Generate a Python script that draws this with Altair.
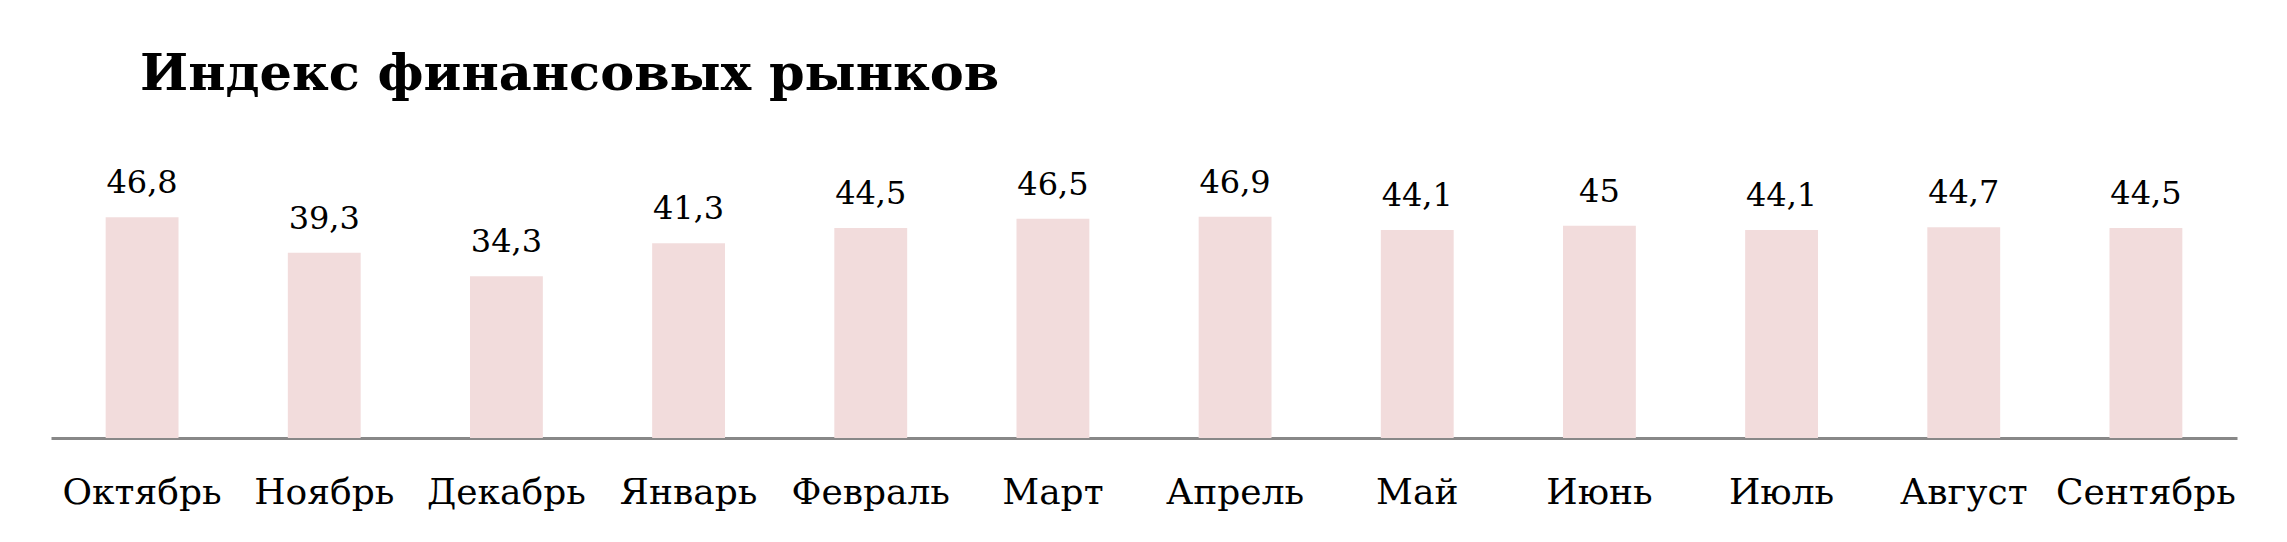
import altair as alt
import pandas as pd

months = ["Октябрь", "Ноябрь", "Декабрь", "Январь", "Февраль", "Март",
          "Апрель", "Май", "Июнь", "Июль", "Август", "Сентябрь"]
values = [46.8, 39.3, 34.3, 41.3, 44.5, 46.5, 46.9, 44.1, 45.0, 44.1, 44.7, 44.5]
labels = ["46,8", "39,3", "34,3", "41,3", "44,5", "46,5", "46,9", "44,1", "45", "44,1", "44,7", "44,5"]

df = pd.DataFrame({"month": months, "value": values, "label": labels})

FONT = "DejaVu Serif"

x = alt.X("month:N", sort=months, title=None,
          scale=alt.Scale(paddingInner=0.6, paddingOuter=0.3),
          axis=alt.Axis(labelAngle=0, labelFont=FONT, labelFontSize=36, labelColor="#000000",
                        labelBaseline="alphabetic", labelPadding=65, ticks=False, tickSize=0,
                        domainColor="#888888", domainWidth=3, labelOverlap=False))
y = alt.Y("value:Q", title=None, scale=alt.Scale(domain=[0, 60], nice=False),
          axis=None)

bars = alt.Chart(df).mark_bar(color="#F2DCDC").encode(x=x, y=y)
text = alt.Chart(df).mark_text(font=FONT, fontSize=32, color="#000000",
                               baseline="alphabetic", dy=-24).encode(
    x=alt.X("month:N", sort=months), y="value:Q", text="label:N")

chart = alt.layer(bars, text).properties(
    width=2186, height=283,
    background="white",
    title=alt.Title("Индекс финансовых рынков", anchor="start", dx=89,
                    font=FONT, fontSize=51, fontWeight="bold", color="#000000",
                    baseline="alphabetic", offset=14),
    padding={"left": 43, "top": 147, "right": 40, "bottom": 100},
    autosize=alt.AutoSizeParams(type="none"),
).configure_view(strokeWidth=0, stroke=None)

chart.save("out.html", embed_options={"renderer": "svg", "actions": False})
